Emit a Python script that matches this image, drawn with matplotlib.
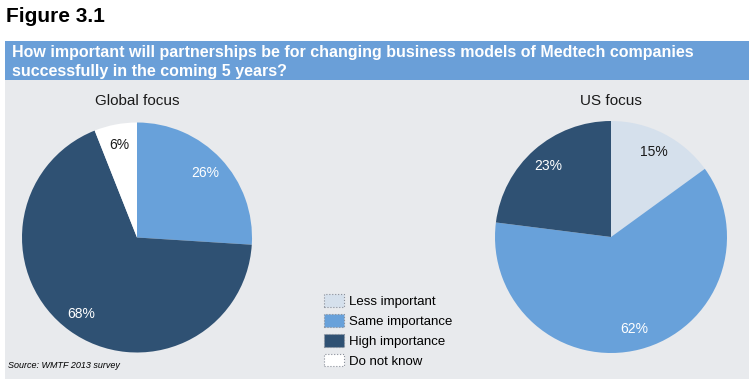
import matplotlib
matplotlib.use('Agg')
import matplotlib.pyplot as plt
from matplotlib.patches import Rectangle, Patch

plt.rcParams['font.family'] = ['Liberation Sans', 'DejaVu Sans']

# data
global_labels = ['Same importance', 'High importance', 'Do not know']
global_vals = [26, 68, 6]
us_labels = ['Less important', 'Same importance', 'High importance']
us_vals = [15, 62, 23]

legend_labels = ['Less important', 'Same importance', 'High importance', 'Do not know']
colors = {
    'Less important': '#d5e0ec',
    'Same importance': '#68a1da',
    'High importance': '#2f5173',
    'Do not know': '#ffffff',
}
text_colors = {
    'Less important': '#1a1a1a',
    'Same importance': 'white',
    'High importance': 'white',
    'Do not know': '#1a1a1a',
}

W, H = 749, 379
fig = plt.figure(figsize=(W / 100, H / 100), dpi=100)
fig.patch.set_facecolor('white')

# background panels
fig.patches.append(Rectangle((5 / W, 0), 1 - 5 / W, 1 - 80 / H, transform=fig.transFigure,
                             facecolor='#e8eaed', edgecolor='none', zorder=-5))
fig.patches.append(Rectangle((5 / W, 1 - 80 / H), 1 - 5 / W, 39 / H, transform=fig.transFigure,
                             facecolor='#6a9fd8', edgecolor='none', zorder=-5))

fig.text(6 / W, 1 - 16 / H, 'Figure 3.1', fontsize=15, fontweight='bold', va='center', ha='left')
fig.text(12 / W, 1 - 62 / H,
         'How important will partnerships be for changing business models of Medtech companies\n'
         'successfully in the coming 5 years?',
         fontsize=11.5, fontweight='bold', color='white', va='center', ha='left', linespacing=1.3)


def draw_pie(cx, cy, r, vals, labels, title):
    ax = fig.add_axes([(cx - r) / W, 1 - (cy + r) / H, 2 * r / W, 2 * r / H])
    ax.set_zorder(3)
    wedges, texts, autotexts = ax.pie(
        vals, colors=[colors[l] for l in labels], startangle=90, counterclock=False,
        autopct='%d%%', pctdistance=0.82, wedgeprops=dict(linewidth=0),
        textprops=dict(fontsize=10))
    for t, l in zip(autotexts, labels):
        t.set_color(text_colors[l])
    ax.set_xlim(-1, 1)
    ax.set_ylim(-1, 1)
    ax.set_aspect('equal')
    ax.axis('off')
    fig.text(cx / W, 1 - 101 / H, title, fontsize=11, ha='center', va='center', color='#1a1a1a')


draw_pie(137, 237.5, 115, global_vals, global_labels, 'Global focus')
draw_pie(611, 237, 116, us_vals, us_labels, 'US focus')

handles = [Patch(facecolor=colors[l], edgecolor='#8a8f99', linestyle=':', linewidth=0.8)
           for l in legend_labels]
fig.legend(handles, legend_labels, loc='center left', bbox_to_anchor=(312 / W, 1 - 331 / H),
           frameon=False, fontsize=9.5, handlelength=1.5, handleheight=1.1,
           labelspacing=0.45, handletextpad=0.4)

fig.text(8 / W, 1 - 365 / H, 'Source: WMTF 2013 survey', fontsize=6.5, style='italic',
         ha='left', va='center')

fig.savefig('out.png', dpi=100)
